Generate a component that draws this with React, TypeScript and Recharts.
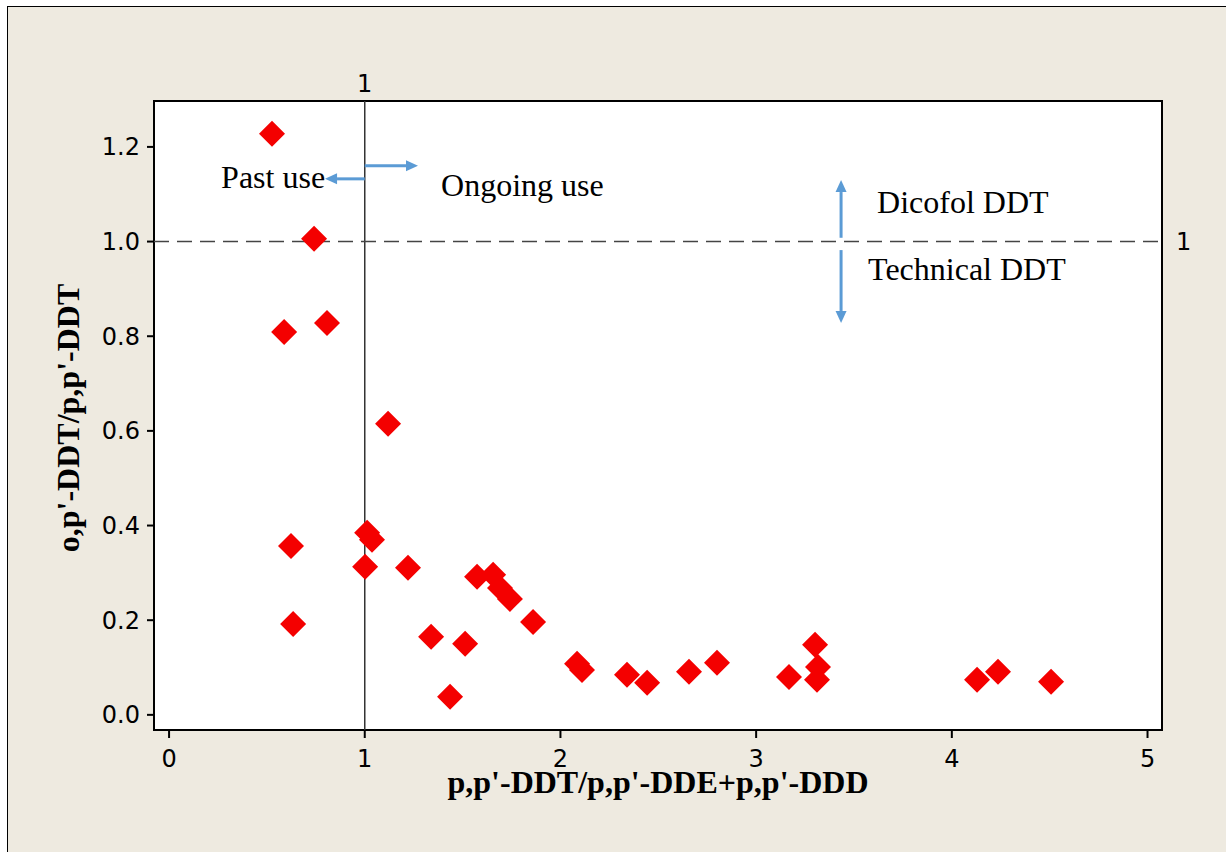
import React from 'react'
import {
    CartesianGrid,
    Label,
    ReferenceArea,
    ReferenceDot,
    ReferenceLine,
    Scatter,
    ScatterChart,
    XAxis,
    YAxis,
} from 'recharts'

// p,p'-DDT/(p,p'-DDE+p,p'-DDD) per sample
const ddtRatio = [
    0.526, 0.741, 0.588, 0.807, 1.119, 0.623, 0.634, 1.012, 1.037, 1.002, 1.221,
    1.339, 1.436, 1.513, 1.574, 1.656, 1.691, 1.742, 1.86, 2.085, 2.11, 2.34,
    2.443, 2.657, 2.8, 3.168, 3.301, 3.316, 3.311, 4.129, 4.236, 4.507,
]
// o,p'-DDT/p,p'-DDT per sample
const opRatio = [
    1.228, 1.006, 0.809, 0.828, 0.615, 0.357, 0.192, 0.385, 0.37, 0.313, 0.311,
    0.165, 0.038, 0.15, 0.292, 0.296, 0.268, 0.245, 0.196, 0.108, 0.095, 0.085,
    0.068, 0.091, 0.11, 0.08, 0.148, 0.101, 0.074, 0.074, 0.091, 0.07,
]

const xTicks = [0, 1, 2, 3, 4, 5]
const yTicks = [0, 0.2, 0.4, 0.6, 0.8, 1.0, 1.2]
const xDomain = [-0.077, 5.074]
const yDomain = [-0.032, 1.297]

// annotation arrows (data coords): [x1, y1, x2, y2], head at the second end
const arrows = [
    [1.0, 1.1325, 0.797, 1.1325],
    [1.0, 1.16, 1.272, 1.16],
    [3.434, 1.008, 3.434, 1.13],
    [3.434, 0.982, 3.434, 0.828],
]
// annotation texts anchored at left/baseline
const notes = [
    { text: 'Past use', x: 0.266, y: 1.113 },
    { text: 'Ongoing use', x: 1.39, y: 1.097 },
    { text: 'Dicofol DDT', x: 3.618, y: 1.061 },
    { text: 'Technical DDT', x: 3.572, y: 0.919 },
]

const points = ddtRatio.map((x, i) => ({ x, y: opRatio[i] }))

const tickFont = { fontSize: 24, fontFamily: 'DejaVu Sans', fill: '#000' }
const serif = 'Liberation Serif'
const arrowColor = '#5b9bd5'

const Diamond = (props: any) => {
    const { cx, cy } = props
    const r = 13
    return (
        <polygon
            points={`${cx},${cy - r} ${cx + r},${cy} ${cx},${cy + r} ${cx - r},${cy}`}
            fill="#f40000"
        />
    )
}

const Arrow = (props: any) => {
    const { x1, y1, x2, y2 } = props
    const ang = Math.atan2(y2 - y1, x2 - x1)
    const len = 12
    const half = 5.5
    const bx = x2 - len * Math.cos(ang)
    const by = y2 - len * Math.sin(ang)
    const px = -Math.sin(ang) * half
    const py = Math.cos(ang) * half
    return (
        <g>
            <line x1={x1} y1={y1} x2={bx} y2={by} stroke={arrowColor} strokeWidth={3} />
            <polygon
                points={`${x2},${y2} ${bx + px},${by + py} ${bx - px},${by - py}`}
                fill={arrowColor}
            />
        </g>
    )
}

const App = () => {
    return (
        <div
            style={{
                position: 'fixed',
                left: 7,
                top: 6,
                width: 1219,
                height: 846,
                boxSizing: 'border-box',
                borderTop: '1px solid #000',
                borderLeft: '1px solid #000',
                background: '#eeeae0',
            }}
        >
            <ScatterChart
                width={1210}
                height={838}
                margin={{ top: 94, right: 56, bottom: 55, left: 46 }}
            >
                <CartesianGrid horizontal={false} vertical={false} fill="#fff" />
                <XAxis
                    type="number"
                    dataKey="x"
                    domain={xDomain}
                    ticks={xTicks}
                    allowDataOverflow
                    height={60}
                    axisLine={false}
                    tickLine={{ stroke: '#000', strokeWidth: 2 }}
                    tickSize={8}
                    tickMargin={12}
                    tick={tickFont}
                >
                    <Label
                        content={() => (
                            <text
                                x={650}
                                y={786}
                                textAnchor="middle"
                                fontFamily={serif}
                                fontWeight="bold"
                                fontSize={32}
                                fill="#000"
                            >
                                p,p'-DDT/p,p'-DDE+p,p'-DDD
                            </text>
                        )}
                    />
                </XAxis>
                <YAxis
                    type="number"
                    dataKey="y"
                    domain={yDomain}
                    ticks={yTicks}
                    allowDataOverflow
                    width={100}
                    axisLine={false}
                    tickLine={{ stroke: '#000', strokeWidth: 2 }}
                    tickSize={7}
                    tickMargin={7}
                    tick={tickFont}
                    tickFormatter={(v: number) => v.toFixed(1)}
                >
                    <Label
                        content={() => (
                            <text
                                x={60}
                                y={411}
                                transform="rotate(-90 60 411)"
                                textAnchor="middle"
                                dominantBaseline="central"
                                fontFamily={serif}
                                fontWeight="bold"
                                fontSize={32}
                                fill="#000"
                            >
                                o,p'-DDT/p,p'-DDT
                            </text>
                        )}
                    />
                </YAxis>

                {/* plot frame */}
                <ReferenceArea
                    x1={xDomain[0]}
                    x2={xDomain[1]}
                    y1={yDomain[0]}
                    y2={yDomain[1]}
                    fill="none"
                    fillOpacity={0}
                    stroke="#000"
                    strokeWidth={2}
                />

                <ReferenceLine
                    x={1}
                    stroke="#333"
                    strokeWidth={1.5}
                    label={{ value: '1', position: 'top', offset: 9, ...tickFont }}
                />
                <ReferenceLine
                    y={1}
                    stroke="#444"
                    strokeWidth={1.5}
                    strokeDasharray="15 8"
                    label={{ value: '1', position: 'right', offset: 14, ...tickFont }}
                />

                {arrows.map((a, i) => (
                    <ReferenceLine
                        key={'arrow' + i}
                        segment={[
                            { x: a[0], y: a[1] },
                            { x: a[2], y: a[3] },
                        ]}
                        shape={Arrow}
                    />
                ))}

                {notes.map((n) => (
                    <ReferenceDot
                        key={n.text}
                        x={n.x}
                        y={n.y}
                        r={1}
                        shape={(p: any) => (
                            <text
                                x={p.cx}
                                y={p.cy}
                                fontFamily={serif}
                                fontSize={32}
                                fill="#000"
                            >
                                {n.text}
                            </text>
                        )}
                    />
                ))}

                <Scatter data={points} shape={Diamond} isAnimationActive={false} />
            </ScatterChart>
        </div>
    )
}

export default App
